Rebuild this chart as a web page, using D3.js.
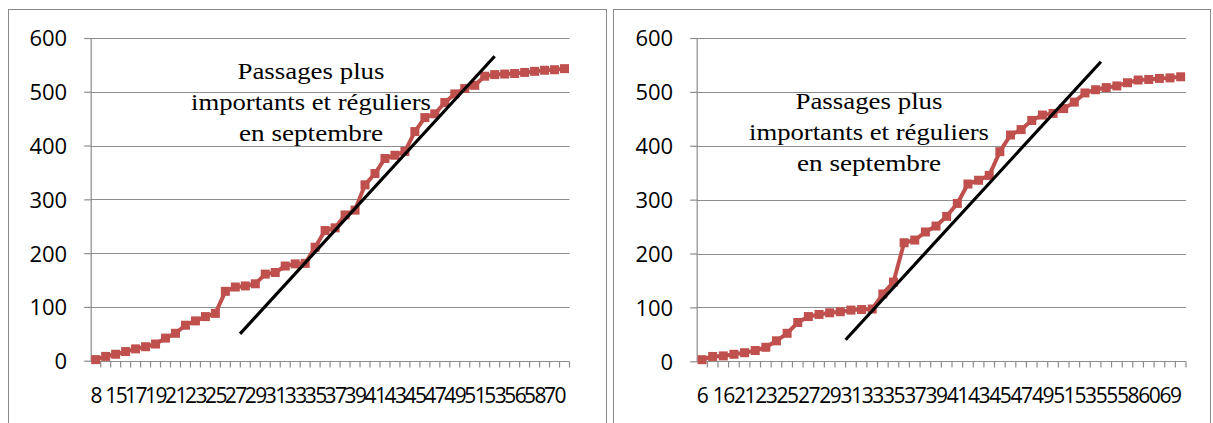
<!DOCTYPE html>
<html>
<head>
<meta charset="utf-8">
<script src="https://cdn.jsdelivr.net/npm/d3@7/dist/d3.min.js"></script>
<style>
  html, body { margin: 0; padding: 0; background: #ffffff; }
  svg { display: block; }
</style>
</head>
<body>
<svg id="chart" width="1213" height="423"></svg>
<script>
// Cumulative passages per day (left panel)
const leftTickLabels = ["8","15","17","19","21","23","25","27","29","31","33","35",
  "37","39","41","43","45","47","49","51","53","56","58","70"];
const leftValues = [2, 8, 12, 17, 22, 26, 31, 42, 51, 66, 74, 82, 88, 129, 137, 139,
  143, 161, 164, 176, 180, 181, 211, 242, 247, 271, 280, 327, 348, 376, 382, 389,
  426, 452, 459, 480, 496, 506, 512, 529, 532, 533, 534, 536, 538, 540, 541, 543];
// Trend line end points: [category position, value]
const leftTrend = [[14.47, 50], [40.0, 566]];

// Cumulative passages per day (right panel)
const rightTickLabels = ["6","16","21","23","25","27","29","31","33","35","37","39",
  "41","43","45","47","49","51","53","55","58","60","69"];
const rightValues = [3, 9, 10, 13, 16, 20, 26, 38, 52, 72, 83, 87, 90, 92, 95, 96,
  97, 125, 147, 220, 225, 240, 251, 269, 293, 329, 336, 345, 389, 420, 430, 447,
  457, 460, 469, 481, 498, 504, 508, 511, 517, 522, 523, 525, 526, 528];
const rightTrend = [[13.5, 40], [37.5, 556]];

const yTicks = [0, 100, 200, 300, 400, 500, 600];
const noteLines = ["Passages plus", "importants et réguliers", "en septembre"];

const svg = d3.select("#chart");
const gridColor = "#8c8c8c";
const seriesColor = "#c0504d";

function drawPanel(cfg) {
  const g = svg.append("g");

  // outer frame of the chart area
  g.append("rect")
    .attr("x", cfg.frame[0] + 0.5).attr("y", 9.5)
    .attr("width", cfg.frame[1] - cfg.frame[0]).attr("height", 500)
    .attr("fill", "none").attr("stroke", "#8a8a8a").attr("stroke-width", 1);

  const n = cfg.values.length;
  const x = d3.scaleBand().domain(d3.range(n)).range([cfg.x0, cfg.x1]).paddingInner(0).paddingOuter(0);
  const bw = x.bandwidth();
  const xc = i => cfg.x0 + bw * (i + 0.5);
  const y = d3.scaleLinear().domain([0, 600]).range([cfg.yZero, 38]);

  // horizontal gridlines
  g.append("g").selectAll("line").data(yTicks.filter(d => d > 0)).join("line")
    .attr("x1", cfg.x0).attr("x2", cfg.x1)
    .attr("y1", d => Math.round(y(d)) + 0.5).attr("y2", d => Math.round(y(d)) + 0.5)
    .attr("stroke", gridColor).attr("stroke-width", 1.2);

  // y axis
  const yAxis = d3.axisLeft(y).tickValues(yTicks).tickSize(7).tickPadding(17).tickFormat(d3.format("d"));
  const ya = g.append("g").attr("transform", `translate(${cfg.x0 + 0.5},0)`).call(yAxis);
  ya.select(".domain").attr("stroke", gridColor).attr("stroke-width", 1.2).attr("d", `M0,${y(0)}V${y(600)}`);
  ya.selectAll(".tick line").attr("stroke", gridColor).attr("stroke-width", 1.2);
  ya.selectAll(".tick text").attr("font-family", "'Open Sans', sans-serif").attr("font-size", 22)
    .attr("fill", "#000").attr("dy", "0.36em");

  // x axis baseline and category ticks at band edges
  const yb = Math.round(y(0)) + 0.5;
  g.append("line").attr("x1", cfg.x0).attr("x2", cfg.x1).attr("y1", yb).attr("y2", yb)
    .attr("stroke", gridColor).attr("stroke-width", 1.2);
  g.append("g").selectAll("line").data(d3.range(1, n + 1)).join("line")
    .attr("x1", i => cfg.x0 + bw * i).attr("x2", i => cfg.x0 + bw * i)
    .attr("y1", yb).attr("y2", yb + 6)
    .attr("stroke", gridColor).attr("stroke-width", 1.2);

  // category labels, every second category
  g.append("g").selectAll("text").data(cfg.tickLabels).join("text")
    .attr("x", (d, k) => xc(k * 2)).attr("y", 403)
    .attr("text-anchor", "middle")
    .attr("font-family", "'Open Sans', sans-serif").attr("font-size", 21)
    .attr("letter-spacing", -1.5)
    .text(d => d);

  // series line
  const line = d3.line().x((d, i) => xc(i)).y(d => y(d));
  g.append("path").datum(cfg.values).attr("d", line)
    .attr("fill", "none").attr("stroke", seriesColor).attr("stroke-width", 4)
    .attr("stroke-linejoin", "round");

  // square markers
  const ms = 9;
  g.append("g").selectAll("rect").data(cfg.values).join("rect")
    .attr("x", (d, i) => xc(i) - ms / 2).attr("y", d => y(d) - ms / 2)
    .attr("width", ms).attr("height", ms).attr("fill", seriesColor);

  // trend line
  g.append("line")
    .attr("x1", xc(cfg.trend[0][0])).attr("y1", y(cfg.trend[0][1]))
    .attr("x2", xc(cfg.trend[1][0])).attr("y2", y(cfg.trend[1][1]))
    .attr("stroke", "#000").attr("stroke-width", 3.2);

  // annotation
  g.append("g").selectAll("text").data(noteLines).join("text")
    .attr("x", cfg.noteX).attr("y", (d, k) => cfg.noteY + k * 31)
    .attr("text-anchor", "middle")
    .attr("font-family", "'Liberation Serif', 'Times New Roman', serif")
    .attr("font-size", 23)
    .attr("textLength", (d, k) => [147, 240, 144][k])
    .attr("lengthAdjust", "spacingAndGlyphs")
    .text(d => d);
}

drawPanel({ frame: [8, 606], x0: 90.7, x1: 569.5, yZero: 360.7, values: leftValues,
  tickLabels: leftTickLabels, trend: leftTrend, noteX: 311, noteY: 79 });
drawPanel({ frame: [613, 1210], x0: 696.7, x1: 1186, yZero: 361.3, values: rightValues,
  tickLabels: rightTickLabels, trend: rightTrend, noteX: 869, noteY: 109 });
</script>
</body>
</html>
